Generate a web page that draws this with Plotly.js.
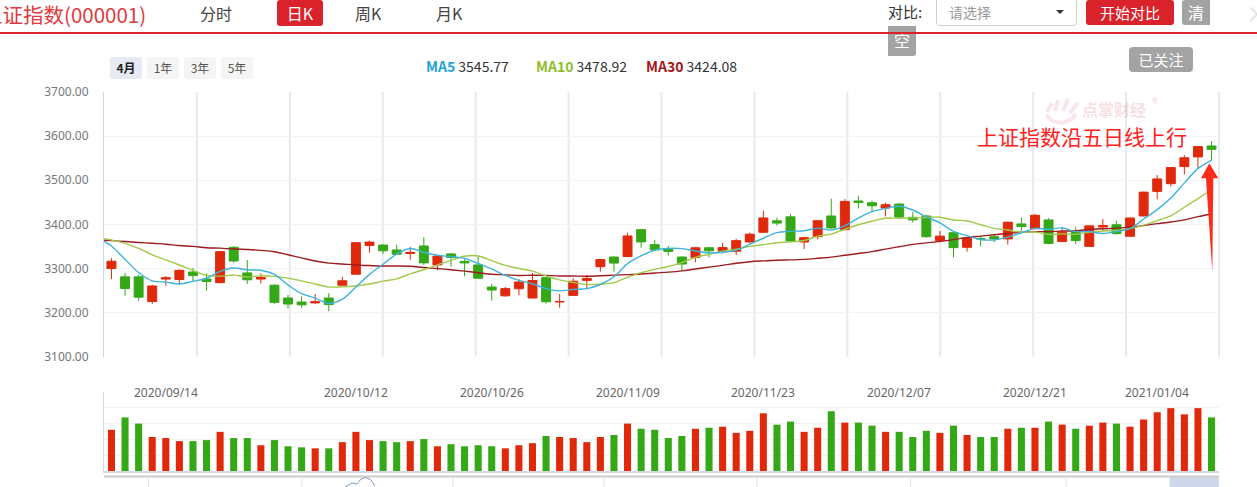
<!DOCTYPE html>
<html><head><meta charset="utf-8">
<script src="https://cdn.plot.ly/plotly-3.0.1.min.js"></script>
<style>
html,body{margin:0;padding:0;background:#fff;}
body{width:1257px;height:487px;overflow:hidden;position:relative;font-family:"Noto Sans CJK SC","Noto Sans",sans-serif;}
#chart{position:absolute;left:0;top:0;width:1257px;height:487px;}
.ov{position:absolute;z-index:5;white-space:nowrap;line-height:1;}
.btn{position:absolute;z-index:5;text-align:center;white-space:nowrap;}
</style></head><body>
<div id="chart"></div>

<div class="ov" style="left:-18px;top:4px;font-size:20.5px;color:#e0393e;">上证指数(000001)</div>
<div class="ov" style="left:200px;top:5px;font-size:16px;color:#444;">分时</div>
<div class="btn" style="left:277px;top:0;width:46px;height:26px;line-height:26px;background:#d9222a;border-radius:3px;color:#fff;font-size:16px;">日K</div>
<div class="ov" style="left:355px;top:5px;font-size:16px;color:#444;">周K</div>
<div class="ov" style="left:436px;top:5px;font-size:16px;color:#444;">月K</div>
<div class="ov" style="left:888px;top:4px;font-size:15px;color:#333;">对比:</div>
<div class="ov" style="left:936px;top:-3px;width:139px;height:27px;border:1px solid #cfcfcf;border-radius:4px;background:#fff;"></div>
<div class="ov" style="left:949px;top:5px;font-size:14px;color:#9a9a9a;">请选择</div>
<div class="ov" style="left:1056px;top:10px;width:0;height:0;border-left:4px solid transparent;border-right:4px solid transparent;border-top:4px solid #333;"></div>
<div class="btn" style="left:1086px;top:0;width:88px;height:25px;line-height:25px;background:#d9222a;border-radius:3px;color:#fff;font-size:15px;">开始对比</div>
<div class="btn" style="left:1182px;top:0;width:28px;height:25px;line-height:25px;background:#a3a3a3;border-radius:3px 0 0 3px;color:#fff;font-size:16px;">清</div>
<div class="btn" style="left:888px;top:26px;width:28px;height:30px;line-height:28px;background:#a3a3a3;border-radius:0 0 3px 0;color:#fff;font-size:16px;">空</div>
<div class="ov" style="left:1246px;top:1px;font-size:22px;color:#dedede;">×</div>
<div class="ov" style="left:0;top:32px;width:1257px;height:2px;background:#d9222a;"></div>
<div class="btn" style="left:1129px;top:47px;width:64px;height:25px;line-height:25px;background:#a3a3a3;border-radius:4px;color:#fff;font-size:15px;">已关注</div>

<div class="btn" style="left:110px;top:57px;width:32px;height:22px;line-height:22px;background:#e6eaf4;border-radius:2px;color:#222;font-size:12px;font-weight:bold;">4月</div>
<div class="btn" style="left:147px;top:57px;width:32px;height:22px;line-height:22px;background:#f4f4f4;border-radius:2px;color:#555;font-size:12px;">1年</div>
<div class="btn" style="left:184px;top:57px;width:32px;height:22px;line-height:22px;background:#f4f4f4;border-radius:2px;color:#555;font-size:12px;">3年</div>
<div class="btn" style="left:221px;top:57px;width:32px;height:22px;line-height:22px;background:#f4f4f4;border-radius:2px;color:#555;font-size:12px;">5年</div>

<div class="ov" style="left:426px;top:59px;font-size:14px;"><b style="color:#21a3d4">MA5</b> <span style="color:#333">3545.77</span></div>
<div class="ov" style="left:536px;top:59px;font-size:14px;"><b style="color:#8fbe2c">MA10</b> <span style="color:#333">3478.92</span></div>
<div class="ov" style="left:646px;top:59px;font-size:14px;"><b style="color:#a3161b">MA30</b> <span style="color:#333">3424.08</span></div>

<script>
// ---- data ----
const dates = ['2020/09/08','2020/09/09','2020/09/10','2020/09/11','2020/09/14','2020/09/15','2020/09/16','2020/09/17','2020/09/18','2020/09/21','2020/09/22','2020/09/23','2020/09/24','2020/09/25','2020/09/28','2020/09/29','2020/09/30','2020/10/09','2020/10/12','2020/10/13','2020/10/14','2020/10/15','2020/10/16','2020/10/19','2020/10/20','2020/10/21','2020/10/22','2020/10/23','2020/10/26','2020/10/27','2020/10/28','2020/10/29','2020/10/30','2020/11/02','2020/11/03','2020/11/04','2020/11/05','2020/11/06','2020/11/09','2020/11/10','2020/11/11','2020/11/12','2020/11/13','2020/11/16','2020/11/17','2020/11/18','2020/11/19','2020/11/20','2020/11/23','2020/11/24','2020/11/25','2020/11/26','2020/11/27','2020/11/30','2020/12/01','2020/12/02','2020/12/03','2020/12/04','2020/12/07','2020/12/08','2020/12/09','2020/12/10','2020/12/11','2020/12/14','2020/12/15','2020/12/16','2020/12/17','2020/12/18','2020/12/21','2020/12/22','2020/12/23','2020/12/24','2020/12/25','2020/12/28','2020/12/29','2020/12/30','2020/12/31','2021/01/04','2021/01/05','2021/01/06','2021/01/07','2021/01/08'];

const open = [3300,3281,3281,3225,3276,3275,3292,3276,3268,3348,3290,3276,3262,3233,3224,3222,3233,3262,3287,3352,3353,3342,3334,3351,3308,3333,3316,3308,3258,3238,3254,3233,3279,3224,3239,3273,3304,3326,3327,3388,3354,3345,3326,3325,3347,3338,3339,3360,3382,3408,3417,3360,3372,3419,3388,3453,3449,3437,3446,3416,3419,3363,3381,3348,3368,3372,3367,3401,3390,3410,3361,3384,3350,3394,3399,3373,3419,3474.68,3492.19,3530.91,3552.91,3577.64];
const high = [3323,3290,3286,3263,3283,3298,3301,3289,3339,3351,3319,3289,3265,3240,3237,3242,3244,3281,3359,3363,3355,3354,3349,3371,3330,3335,3323,3327,3265,3258,3276,3290,3280,3242,3278,3285,3321,3327,3381,3389,3365,3351,3327,3348,3348,3358,3367,3381,3431,3415,3424,3372,3409,3458,3457,3465,3453,3449,3449,3428,3422,3385,3382,3370,3374,3378,3406,3415,3424,3414,3394,3394,3397,3412,3408,3415,3474,3511.65,3528.68,3556.80,3576.21,3588.79];
const low = [3276,3238,3227,3220,3261,3264,3271,3250,3266,3313,3265,3266,3220,3209,3211,3220,3203,3261,3286,3336,3333,3331,3320,3308,3296,3304,3282,3276,3227,3236,3239,3232,3220,3211,3238,3255,3293,3293,3326,3347,3339,3329,3295,3314,3325,3334,3331,3358,3380,3397,3360,3344,3366,3389,3387,3436,3428,3418,3414,3404,3370,3359,3325,3338,3350,3359,3354,3385,3389,3355,3360,3355,3349,3384,3377,3372,3418,3457.21,3485.80,3513.13,3526.62,3544.00];
const close = [3316.42,3254.63,3234.82,3260.35,3278.81,3295.68,3283.92,3270.44,3338.09,3316.94,3274.30,3279.71,3223.18,3219.42,3217.53,3224.36,3218.05,3272.08,3358.47,3359.75,3340.16,3332.18,3336.36,3312.67,3328.10,3325.03,3312.50,3278.00,3251.12,3254.32,3269.24,3272.74,3224.53,3225.12,3271.07,3277.44,3320.13,3312.16,3373.73,3360.15,3342.20,3338.68,3310.10,3346.97,3339.90,3347.30,3363.09,3377.73,3414.49,3402.82,3362.33,3369.73,3408.31,3391.76,3451.94,3449.38,3442.14,3444.58,3416.60,3410.18,3371.96,3373.28,3347.19,3369.12,3367.23,3366.98,3404.87,3394.90,3420.57,3356.78,3382.32,3363.11,3396.56,3397.29,3379.04,3414.45,3473.07,3502.96,3528.68,3550.88,3576.21,3570.11];
const volume = [240,312,276,198,192,174,174,180,228,192,192,150,180,144,138,132,132,168,228,180,174,168,174,186,144,156,144,150,144,132,150,162,204,198,192,168,198,210,276,246,240,192,204,246,252,258,222,234,336,270,288,228,252,348,282,282,264,228,228,198,234,222,264,210,198,198,246,252,252,288,270,246,264,282,276,258,300,342,366,330,366,312];

// moving-average lines start one session earlier (2020/09/07), partly off the left edge
const maDates = ['2020/09/07'].concat(dates);
const ma5 = [3369.67,3350.83,3320.80,3290.77,3271.76,3269.01,3264.86,3270.72,3277.84,3293.39,3301.01,3296.74,3295.90,3286.44,3262.71,3242.83,3232.84,3220.51,3230.29,3258.10,3286.54,3309.70,3332.53,3345.38,3336.22,3329.89,3326.87,3322.93,3311.26,3298.95,3284.19,3273.04,3265.08,3254.39,3249.19,3252.54,3254.18,3263.66,3281.18,3310.91,3328.72,3341.67,3345.38,3344.97,3339.62,3335.57,3336.59,3341.47,3355.00,3368.50,3381.09,3384.09,3385.42,3391.54,3386.99,3396.81,3414.22,3428.71,3435.96,3440.93,3432.58,3417.09,3403.32,3383.84,3374.35,3365.76,3364.76,3371.08,3380.62,3390.91,3388.82,3391.89,3383.54,3383.87,3379.21,3383.66,3390.09,3412.08,3433.36,3459.64,3494.01,3526.36,3545.77];
const ma10 = [3370.13,3364.41,3356.90,3345.37,3331.03,3319.34,3307.85,3295.76,3284.30,3282.58,3285.01,3280.80,3283.31,3282.14,3278.05,3271.92,3264.79,3258.20,3258.37,3260.40,3264.69,3271.27,3276.52,3287.84,3297.16,3308.22,3318.29,3327.73,3328.32,3317.59,3307.04,3299.95,3294.01,3282.83,3274.07,3268.37,3263.61,3264.37,3267.79,3280.05,3290.63,3297.93,3304.52,3313.08,3325.26,3332.15,3339.13,3343.43,3349.99,3354.06,3358.33,3360.34,3363.45,3373.27,3377.75,3388.95,3399.16,3407.06,3413.75,3413.96,3414.70,3415.66,3416.01,3409.90,3407.64,3399.17,3390.93,3387.20,3382.23,3382.63,3377.29,3378.32,3377.31,3382.24,3385.06,3386.24,3390.99,3397.81,3408.62,3419.43,3438.84,3458.23,3478.93];
const ma30 = [3365,3363,3361,3359,3357,3355,3352,3350,3347,3346,3344,3343,3341,3338,3331,3324,3317,3312,3310,3308,3306.61,3305.49,3305.57,3305.12,3302.08,3299.83,3296.97,3293.90,3290.33,3286.86,3285.58,3284.01,3284.61,3284.27,3283.09,3282.84,3282.23,3283.43,3284.83,3286.01,3287.45,3289.72,3291.68,3294.58,3298.83,3302.91,3307.01,3311.84,3315.36,3317.23,3318.67,3319.41,3320.66,3323.06,3325.69,3329.82,3333.97,3338.29,3343.84,3349.36,3354.55,3357.98,3361.33,3365.42,3370.22,3373.42,3376.41,3379.23,3381.99,3383.55,3383.44,3384.77,3385.59,3388.47,3390.15,3391.45,3393.69,3397.36,3401.53,3405.34,3410.27,3417.40,3424.08];

const tickDates = ['2020/09/14','2020/10/12','2020/10/26','2020/11/09','2020/11/23','2020/12/07','2020/12/21','2021/01/04'];
const priceTicks = [3100,3200,3300,3400,3500,3600,3700];

// ---- style ----
const UP = '#e0290b', DOWN = '#35a817';
const C5 = '#3db4dc', C10 = '#a2c84a', C30 = '#9e1b1f';
const volColors = open.map((o,i)=> close[i] >= o ? UP : DOWN);

const traces = [
  {type:'candlestick', x:dates, open:open, high:high, low:low, close:close, xaxis:'x', yaxis:'y',
   increasing:{line:{color:UP,width:1}, fillcolor:UP},
   decreasing:{line:{color:DOWN,width:1}, fillcolor:DOWN},
   whiskerwidth:0, hoverinfo:'skip'},
  {type:'scatter', mode:'lines', x:maDates, y:ma30, line:{color:C30,width:1.4,shape:'spline'}, xaxis:'x', yaxis:'y', hoverinfo:'skip'},
  {type:'scatter', mode:'lines', x:maDates, y:ma10, line:{color:C10,width:1.4,shape:'spline'}, xaxis:'x', yaxis:'y', hoverinfo:'skip'},
  {type:'scatter', mode:'lines', x:maDates, y:ma5, line:{color:C5,width:1.4,shape:'spline'}, xaxis:'x', yaxis:'y', hoverinfo:'skip'},
  {type:'bar', x:dates, y:volume, marker:{color:volColors, line:{width:0}}, xaxis:'x2', yaxis:'y2', hoverinfo:'skip'}
];

const PL = 104, PR = 1219, PT = 92, PB = 471;
const px = v => (v-PL)/(PR-PL);
const py = v => (PB-v)/(PB-PT);
const priceBottom = py(356.7);
const volTop = py(392);

const shapes = [];
for (let k=1;k<=12;k++){
  shapes.push({type:'line', xref:'paper', yref:'paper', x0:k/12, x1:k/12, y0:priceBottom, y1:1,
    line:{color:'#e5eaf1', width:2}, layer:'below'});
}
// arrow
const arrowPts = [[1209.3,163.3],[1218.3,178.3],[1213.3,178.3],[1212.3,271.7],[1206,178.3],[1201,178.3]];
shapes.push({type:'path', xref:'paper', yref:'paper',
  path:'M '+arrowPts.map(p=>px(p[0])+','+py(p[1])).join(' L ')+' Z',
  fillcolor:'#ff2a1a', line:{width:0}});
// watermark hand logo (pale strokes)
const wm = 'rgba(225,130,140,0.2)';
[[[1047,112],[1052,103]],[[1055,111],[1058,100]],[[1063,111],[1068,99]],[[1070,113],[1078,103]]].forEach(s=>{
  shapes.push({type:'line', xref:'paper', yref:'paper', x0:px(s[0][0]), y0:py(s[0][1]), x1:px(s[1][0]), y1:py(s[1][1]),
    line:{color:wm, width:4}});
});
shapes.push({type:'path', xref:'paper', yref:'paper',
  path:'M '+[[1046,115],[1052,121],[1062,123],[1072,119],[1076,114]].map(p=>px(p[0])+','+py(p[1])).join(' L '),
  line:{color:wm, width:4}});
// navigator strip
shapes.push({type:'rect', xref:'paper', yref:'paper', x0:px(1169.6), x1:1, y0:py(487), y1:py(477), fillcolor:'#cfd8ea', line:{width:0}});
shapes.push({type:'line', xref:'paper', yref:'paper', x0:0, x1:1, y0:py(476.5), y1:py(476.5), line:{color:'#cccccc', width:2}});
[148.6,302,453,604,757,910.6,1066].forEach(v=>{
  shapes.push({type:'line', xref:'paper', yref:'paper', x0:px(v), x1:px(v), y0:py(477.5), y1:py(487), line:{color:'#e2e2e2', width:1}});
});
const mini = [[345,487],[352,483],[357,484],[361,479],[366,477.5],[371,480],[375,486]];
shapes.push({type:'path', xref:'paper', yref:'paper', path:'M '+mini.map(p=>px(p[0])+','+py(p[1])).join(' L '), line:{color:'#7f9cc6', width:1}});

const annotations = tickDates.map(d=>({x:d, xref:'x', y:volTop, yref:'paper', text:d, showarrow:false,
  xanchor:'center', yanchor:'middle', font:{family:'Noto Sans', size:12, color:'#666'}}));
annotations.push({x:px(1081.5), y:py(136), xref:'paper', yref:'paper', text:'上证指数沿五日线上行', showarrow:false,
  xanchor:'center', yanchor:'middle', borderpad:0, font:{family:'Noto Sans CJK SC', size:21, color:'#ff2020'}});
annotations.push({x:px(1114), y:py(109), xref:'paper', yref:'paper', text:'<b>点掌财经</b>', showarrow:false,
  xanchor:'center', yanchor:'middle', borderpad:0, font:{family:'Noto Sans CJK SC', size:16, color:'rgba(220,110,120,0.22)'}});
annotations.push({x:px(1155), y:py(101), xref:'paper', yref:'paper', text:'®', showarrow:false,
  xanchor:'center', yanchor:'middle', borderpad:0, font:{family:'DejaVu Sans', size:8, color:'rgba(220,110,120,0.3)'}});

const layout = {
  width:1257, height:487,
  margin:{l:PL, r:1257-PR, t:PT, b:487-PB, pad:0},
  paper_bgcolor:'#ffffff', plot_bgcolor:'#ffffff',
  showlegend:false, hovermode:false,
  boxgap:0.34, boxgroupgap:0, bargap:0.48,
  xaxis:{type:'category', categoryorder:'array', categoryarray:maDates, range:[0.45,82.55],
    anchor:'y', showticklabels:false, showgrid:false, zeroline:false, showline:false, ticks:'',
    rangeslider:{visible:false}, fixedrange:true},
  xaxis2:{type:'category', categoryorder:'array', categoryarray:maDates, range:[0.45,82.55],
    anchor:'y2', showticklabels:false, showgrid:false, zeroline:false, showline:true,
    linecolor:'#d3d9e3', linewidth:2, ticks:'', fixedrange:true},
  yaxis:{domain:[priceBottom,1], range:[3100,3700], tickvals:priceTicks, tickformat:'.2f', anchor:'x',
    gridcolor:'#f3f3f3', gridwidth:1, zeroline:false, showline:true, linecolor:'#c9d9ee', linewidth:1,
    ticks:'outside', ticklen:12, tickcolor:'rgba(0,0,0,0)',
    tickfont:{family:'Noto Sans', size:12, color:'#777'}, fixedrange:true},
  yaxis2:{domain:[0,volTop], range:[0,460], dtick:92, anchor:'x2', showticklabels:false,
    gridcolor:'#f3f3f3', zeroline:false, showline:true, linecolor:'#d5dce6', linewidth:1, ticks:'', fixedrange:true},
  shapes:shapes,
  annotations:annotations
};

Plotly.newPlot('chart', traces, layout, {staticPlot:true, displayModeBar:false});
</script>
</body></html>
